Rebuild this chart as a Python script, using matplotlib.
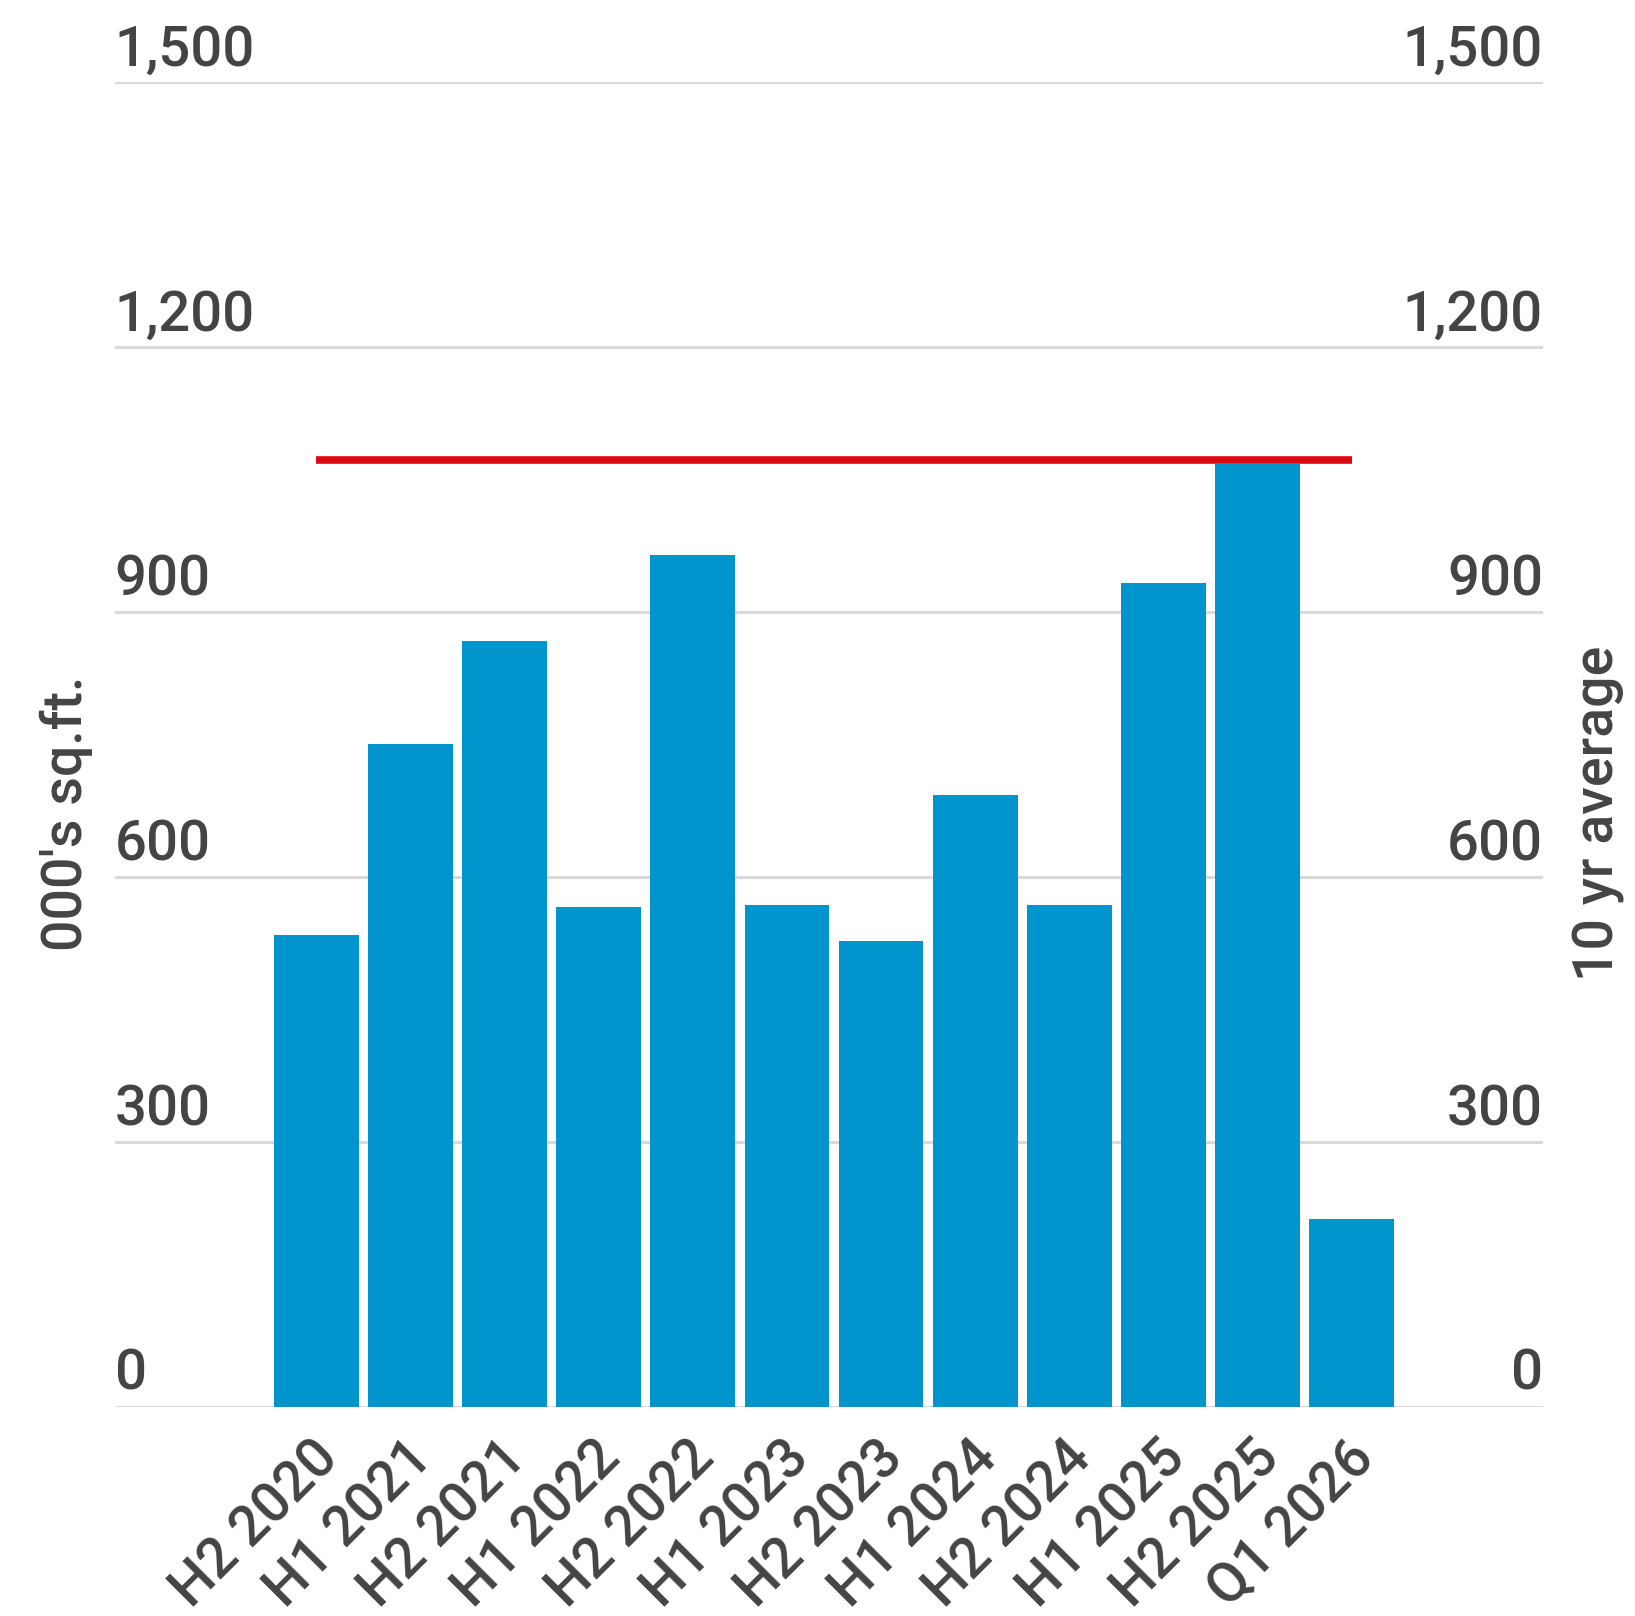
import matplotlib
matplotlib.use("Agg")
import matplotlib.pyplot as plt
import matplotlib.transforms as mtransforms

plt.rcParams['font.family'] = ['Roboto', 'DejaVu Sans']

categories = ["H2 2020", "H1 2021", "H2 2021", "H1 2022", "H2 2022", "H1 2023",
              "H2 2023", "H1 2024", "H2 2024", "H1 2025", "H2 2025", "Q1 2026"]
values = [534, 751, 867, 566, 965, 568, 527, 693, 568, 933, 1068, 213]
ten_yr_average = 1072
y_ticks = [0, 300, 600, 900, 1200, 1500]

TEXT = "#444444"
BAR = "#0295CD"
RED = "#DA0A12"
GRID = "#D9D9D9"
W = 'medium'

fig = plt.figure(figsize=(16.35, 16.16), dpi=100)
ax = fig.add_axes([0.0702, 0.1296, 0.8735, 0.8194])

x = list(range(len(categories)))
ax.bar(x, values, width=0.9, color=BAR, zorder=2)
ax.plot([x[0], x[-1]], [ten_yr_average] * 2, color=RED, lw=5.5,
        solid_capstyle='butt', zorder=3)

ax.set_xlim(-2.14, len(categories) - 1 + 2.03)
ax.set_ylim(0, 1500)
ax.set_yticks(y_ticks)
ax.yaxis.grid(True, color=GRID, lw=2.2, zorder=0)
ax.set_axisbelow(True)
for s in ax.spines.values():
    s.set_visible(False)

ax.set_xticks(x)
ax.set_xticklabels(categories, rotation=45, ha='right', va='center',
                   rotation_mode='anchor', fontsize=40, color=TEXT, fontweight=W)
ax.tick_params(axis='x', length=0, pad=31)
xoff = mtransforms.ScaledTranslation(9.7 / 72, 0, fig.dpi_scale_trans)
for lab in ax.get_xticklabels():
    lab.set_transform(lab.get_transform() + xoff)

ax.tick_params(axis='y', length=0, pad=0, labelsize=40.5, labelcolor=TEXT)
off = mtransforms.ScaledTranslation(0, 12 / 72, fig.dpi_scale_trans)
ax.set_yticklabels([f"{v:,}" for v in y_ticks], fontweight=W)
for lab in ax.get_yticklabels():
    lab.set_ha('left')
    lab.set_va('baseline')
    lab.set_transform(lab.get_transform() + off)

ax2 = ax.twinx()
ax2.set_ylim(ax.get_ylim())
ax2.set_yticks(y_ticks)
ax2.set_yticklabels([f"{v:,}" for v in y_ticks], fontweight=W)
ax2.tick_params(axis='y', length=0, pad=0, labelsize=40.5, labelcolor=TEXT)
for lab in ax2.get_yticklabels():
    lab.set_ha('right')
    lab.set_va('baseline')
    lab.set_transform(lab.get_transform() + off)
for s in ax2.spines.values():
    s.set_visible(False)

ax.set_ylabel("000's sq.ft.", fontsize=40, color=TEXT, fontweight=W)
ax.yaxis.set_label_coords(-0.015, 0.448)
ax2.set_ylabel("10 yr average", fontsize=40, color=TEXT, fontweight=W)
ax2.yaxis.set_label_coords(1.0205, 0.448)

fig.savefig("out.png", dpi=100)
